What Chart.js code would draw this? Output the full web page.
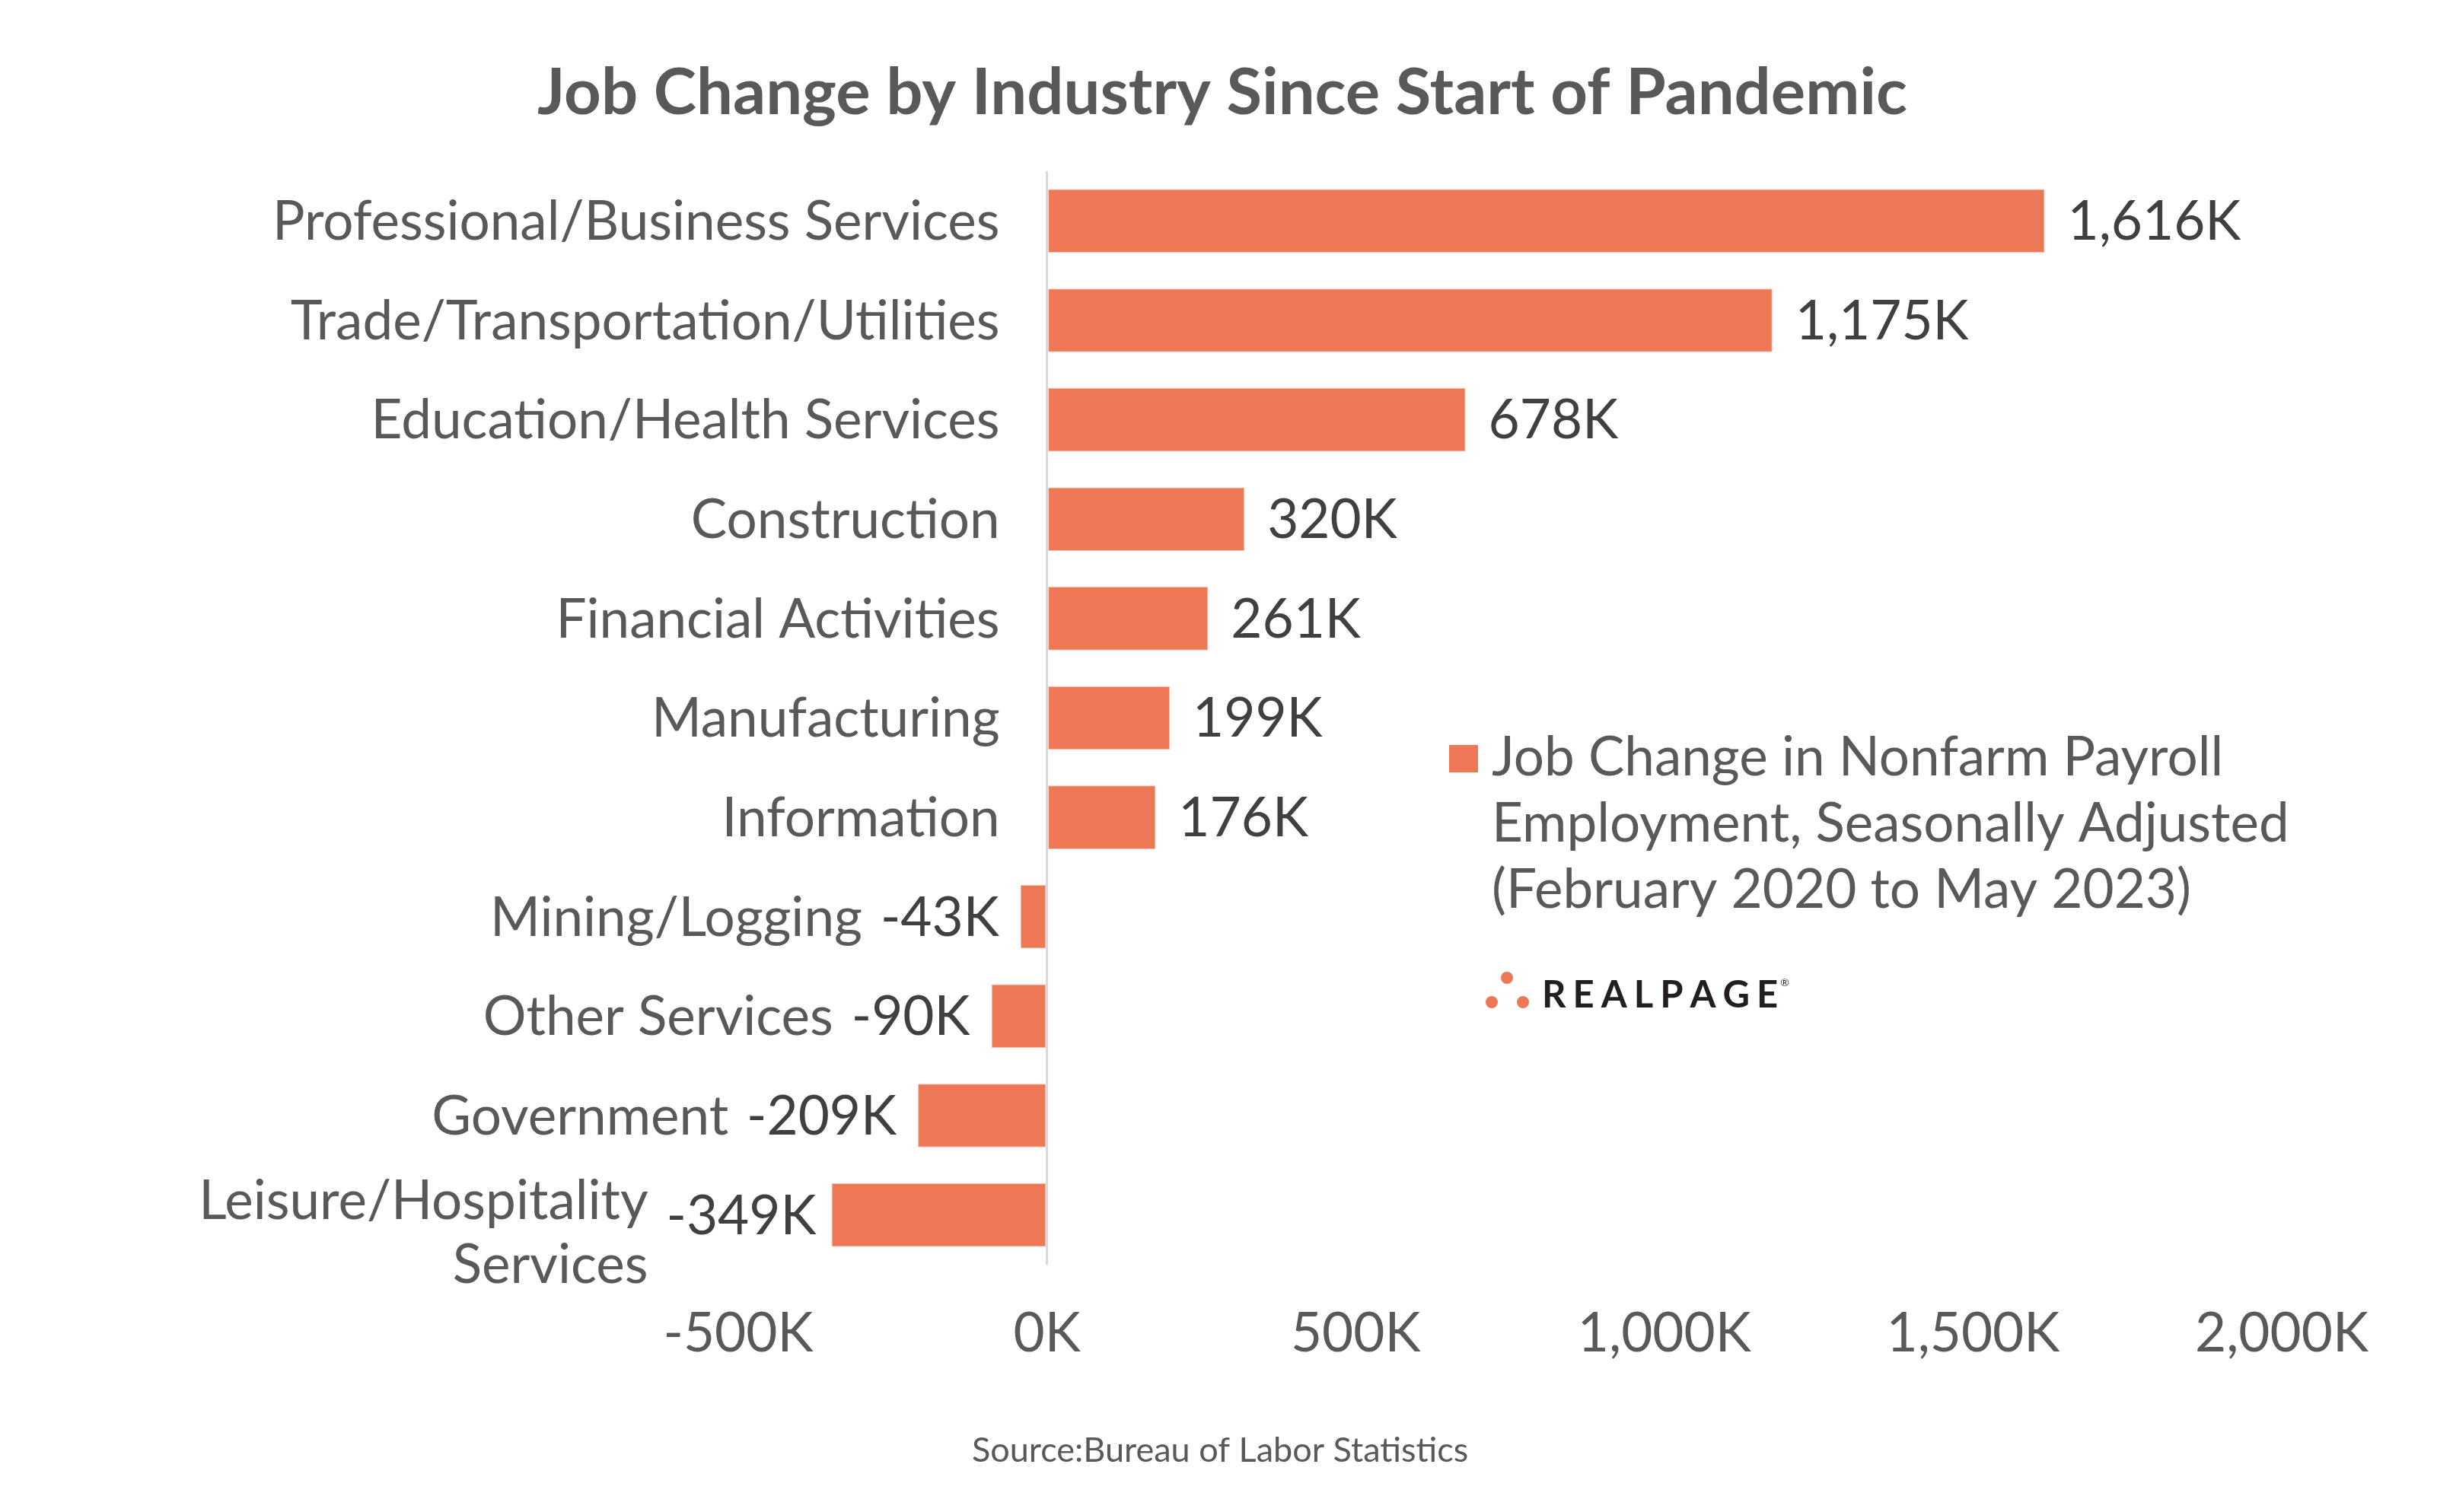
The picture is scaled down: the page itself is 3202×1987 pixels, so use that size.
<!DOCTYPE html>
<html>
<head>
<meta charset="utf-8">
<script src="https://cdn.jsdelivr.net/npm/chart.js@4.4.0/dist/chart.umd.min.js"></script>
<style>
  html, body { margin: 0; padding: 0; background: #fff; }
  #wrap { width: 3202px; height: 1987px; position: relative; }
</style>
</head>
<body>
<div id="wrap"><canvas id="jobChart" width="3202" height="1987"></canvas></div>
<script>
// Job change by industry, Feb 2020 -> May 2023, thousands of jobs
const industries = [
  'Professional/Business Services',
  'Trade/Transportation/Utilities',
  'Education/Health Services',
  'Construction',
  'Financial Activities',
  'Manufacturing',
  'Information',
  'Mining/Logging',
  'Other Services',
  'Government',
  ['Leisure/Hospitality', 'Services']
];
const jobChange = [1616, 1175, 678, 320, 261, 199, 176, -43, -90, -209, -349];
const axisTicks = [-500, 0, 500, 1000, 1500, 2000];
const legendLines = [
  'Job Change in Nonfarm Payroll',
  'Employment, Seasonally Adjusted',
  '(February 2020 to May 2023)'
];

const FONT = 'Lato, "Open Sans", sans-serif';
const BAR = '#EE7755';
const TEXT = '#595959';
const VALUE_TEXT = '#404040';

const fmtK = v => v.toLocaleString('en-US') + 'K';

// value labels + category labels (category labels slide left of negative bars, like Excel does)
const barLabels = {
  id: 'barLabels',
  afterDatasetsDraw(chart) {
    const ctx = chart.ctx;
    const bars = chart.getDatasetMeta(0).data;
    const zeroX = chart.scales.x.getPixelForValue(0);
    ctx.save();
    ctx.font = `71px ${FONT}`;
    ctx.textBaseline = 'middle';
    bars.forEach((bar, i) => {
      const v = jobChange[i];
      const txt = fmtK(v);
      const w = ctx.measureText(txt).width;
      let labelLeft;
      ctx.fillStyle = VALUE_TEXT;
      if (v >= 0) {
        ctx.textAlign = 'left';
        ctx.fillText(txt, bar.x + 30, bar.y + 2);
        labelLeft = zeroX;
      } else {
        const gap = i === bars.length - 1 ? 20 : 28;
        ctx.textAlign = 'right';
        ctx.fillText(txt, bar.x - gap, bar.y + 2);
        labelLeft = bar.x - gap - w;
      }
      const right = Math.min(zeroX - 62, labelLeft - 24);
      const lines = Array.isArray(industries[i]) ? industries[i] : [industries[i]];
      const lh = 84;
      const shift = lines.length > 1 ? 22 : 0;
      ctx.fillStyle = TEXT;
      ctx.textAlign = 'right';
      lines.forEach((ln, k) => {
        ctx.fillText(ln, right, bar.y + 2 + shift + (k - (lines.length - 1) / 2) * lh);
      });
    });
    ctx.restore();
  }
};

// title, legend, logo, source
const decorations = {
  id: 'decorations',
  afterDraw(chart) {
    const ctx = chart.ctx;
    ctx.save();
    ctx.fillStyle = TEXT;
    ctx.textAlign = 'center';
    ctx.textBaseline = 'alphabetic';
    ctx.font = `bold 85px ${FONT}`;
    ctx.fillText('Job Change by Industry Since Start of Pandemic', 1606, 150);

    // legend
    ctx.fillStyle = BAR;
    ctx.fillRect(1904, 979, 38, 36);
    ctx.fillStyle = TEXT;
    ctx.textAlign = 'left';
    ctx.font = `71px ${FONT}`;
    legendLines.forEach((ln, k) => ctx.fillText(ln, 1960, 1019 + k * 87));

    // logo
    ctx.fillStyle = BAR;
    [[1980, 1285], [1960, 1317], [2001, 1317]].forEach(([x, y]) => {
      ctx.beginPath();
      ctx.arc(x, y, 8, 0, Math.PI * 2);
      ctx.fill();
    });
    ctx.fillStyle = '#231F20';
    ctx.font = `bold 49px ${FONT}`;
    let lx = 2026;
    for (const ch of 'REALPAGE') {
      ctx.fillText(ch, lx, 1324);
      lx += ctx.measureText(ch).width + 9;
    }
    ctx.font = `14px ${FONT}`;
    ctx.fillText('®', lx - 6, 1296);

    // source
    ctx.fillStyle = TEXT;
    ctx.textAlign = 'center';
    ctx.font = `45px ${FONT}`;
    ctx.fillText('Source:Bureau of Labor Statistics', 1603, 1921);
    ctx.restore();
  }
};

new Chart(document.getElementById('jobChart'), {
  type: 'bar',
  data: {
    labels: industries,
    datasets: [{
      label: legendLines.join(' '),
      data: jobChange,
      backgroundColor: BAR,
      borderColor: '#F6C2B1',
      borderWidth: 1,
      borderSkipped: false,
      barPercentage: 0.64,
      categoryPercentage: 1
    }]
  },
  options: {
    indexAxis: 'y',
    responsive: false,
    animation: false,
    devicePixelRatio: 1,
    layout: { padding: { left: 970, right: 204, top: 225, bottom: 0 } },
    plugins: {
      legend: { display: false },
      title: { display: false },
      tooltip: { enabled: false }
    },
    scales: {
      x: {
        min: -500,
        max: 2000,
        afterBuildTicks: scale => { scale.ticks = axisTicks.map(v => ({ value: v })); },
        afterFit: scale => { scale.height = 325; },
        grid: {
          drawTicks: false,
          lineWidth: 3,
          color: c => (c.tick && c.tick.value === 0 ? '#D9D9D9' : 'rgba(0,0,0,0)')
        },
        border: { display: false },
        ticks: {
          padding: 49,
          color: TEXT,
          font: { family: FONT, size: 71 },
          callback: v => fmtK(v)
        }
      },
      y: {
        display: false,
        grid: { display: false }
      }
    }
  },
  plugins: [barLabels, decorations]
});
</script>
</body>
</html>
